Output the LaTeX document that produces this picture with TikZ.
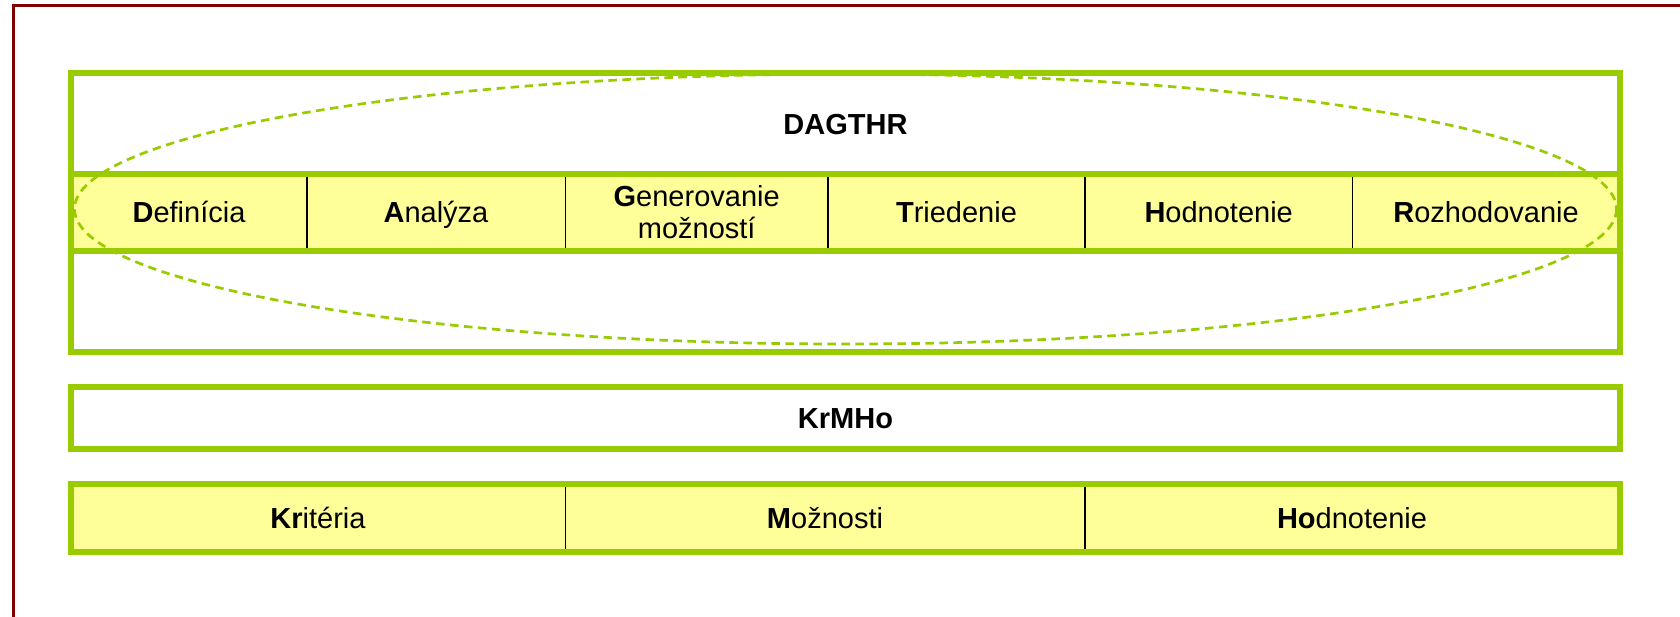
\documentclass[tikz,border=0pt]{standalone}
\usepackage{fontspec}
\setmainfont{Liberation Sans}
\definecolor{grn}{RGB}{153,204,0}
\definecolor{ylw}{RGB}{255,255,153}
\definecolor{darkframe}{RGB}{128,0,0}
\tikzset{
  greenbox/.style={draw=grn, line width=5.7pt},
  sepline/.style={draw=black, line width=1.2pt},
  lbl/.style={font=\fontsize{29}{32}\selectfont, align=center, inner sep=0pt},
  lblbase/.style={lbl, anchor=base},
  dashell/.style={draw=grn, line width=2.7pt, dash pattern=on 8.5pt off 5.5pt}
}
\begin{document}
\begin{tikzpicture}[x=1pt,y=-1pt]
\useasboundingbox (0,0) rectangle (1680,616);
\clip (0,0) rectangle (1680,616);
\fill[white] (0,0) rectangle (1680,616);
% outer frame (only top and left edges visible)
\draw[darkframe, line width=3.3pt] (13.3,700) -- (13.3,5.7) -- (1700,5.7);

% ---- DAGTHR block ----
\fill[ylw] (71.2,174) rectangle (1619.7,251);
\foreach \x in {307,565.3,828,1085,1352.3}
  \draw[sepline] (\x,174) -- (\x,251);
\draw[greenbox] (71.2,73) rectangle (1619.7,352);
\draw[greenbox] (71.2,174) -- (1619.7,174);
\draw[greenbox] (71.2,251) -- (1619.7,251);
\draw[dashell] (845.5,209) ellipse [x radius=771, y radius=135];

\node[lblbase] (dagthr) at (845.5,134) {\textbf{DAGTHR}};
\node[lblbase] (def) at (189,222.5) {\textbf{D}efinícia};
\node[lblbase] (ana) at (436,222.5) {\textbf{A}nalýza};
\node[lbl] (gen) at (696.7,212.5) {\textbf{G}enerovanie\\možností};
\node[lblbase] (tri) at (956.5,222.5) {\textbf{T}riedenie};
\node[lblbase] (hod) at (1218.7,222.5) {\textbf{H}odnotenie};
\node[lblbase] (roz) at (1486,222.5) {\textbf{R}ozhodovanie};

% ---- KrMHo block ----
\draw[greenbox] (71.2,387) rectangle (1619.7,449);
\node[lblbase] (krmho) at (845.5,428.5) {\textbf{KrMHo}};

% ---- bottom row ----
\fill[ylw] (71.2,484) rectangle (1619.7,552);
\foreach \x in {565.3,1085}
  \draw[sepline] (\x,484) -- (\x,552);
\draw[greenbox] (71.2,484) rectangle (1619.7,552);
\node[lblbase] (krit) at (318,528.5) {\textbf{Kr}itéria};
\node[lblbase] (moz) at (825,528.5) {\textbf{M}ožnosti};
\node[lblbase] (hodn) at (1352,528.5) {\textbf{Ho}dnotenie};
\end{tikzpicture}
\end{document}
